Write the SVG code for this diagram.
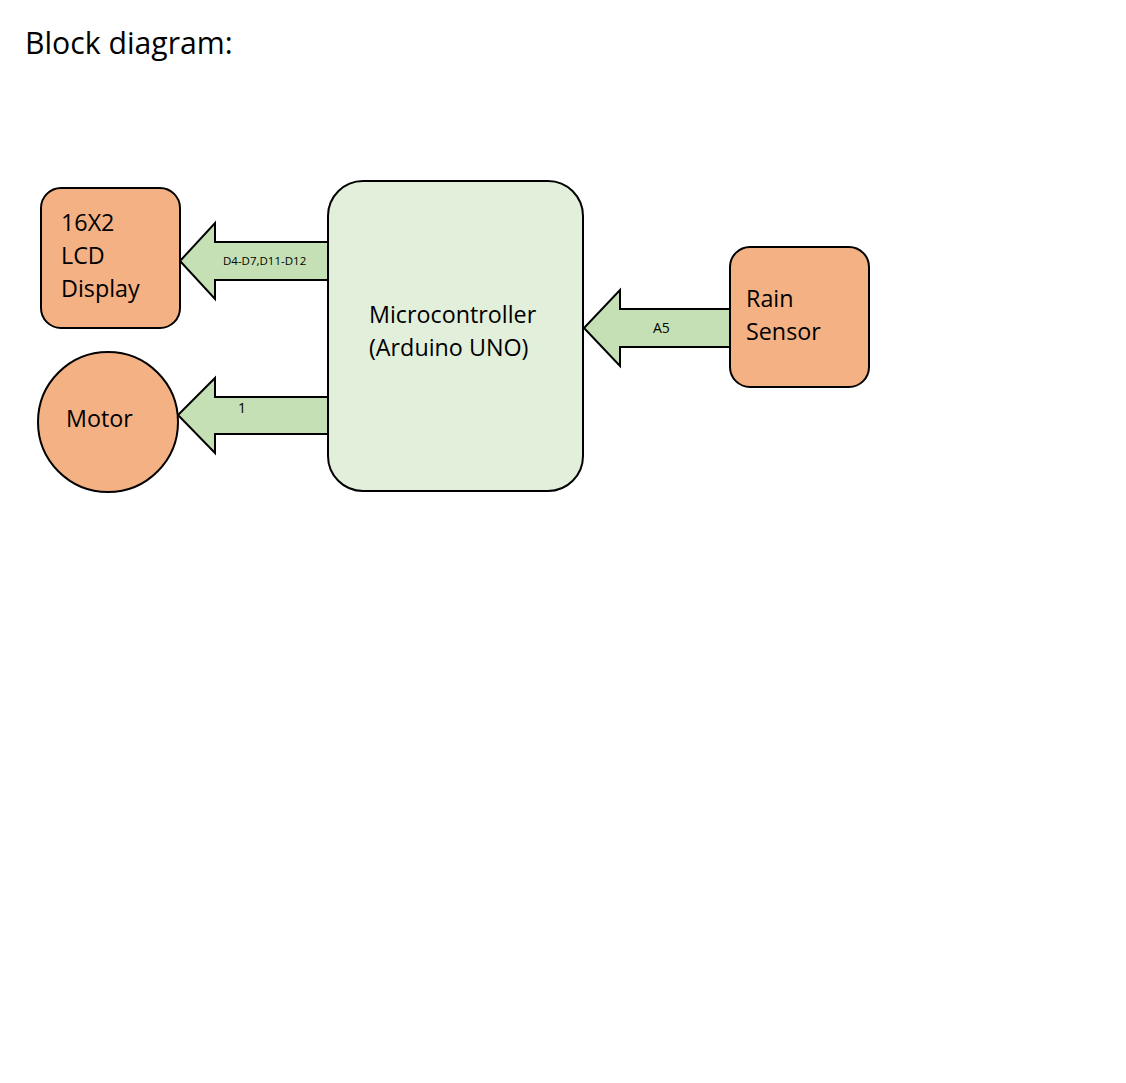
<svg xmlns="http://www.w3.org/2000/svg" width="1126" height="1083" viewBox="0 0 1126 1083">
<style>
text{font-family:"Open Sans","Liberation Sans",sans-serif;fill:#000}
.node{fill:#F4B183;stroke:#000;stroke-width:2}
.mcu{fill:#E2EFDA;stroke:#000;stroke-width:2}
.arrow{fill:#C5E0B4;stroke:#000;stroke-width:2;stroke-linejoin:miter}
.big{font-size:23.3px}
.lbl{font-size:14px}
</style>
<rect width="1126" height="1083" fill="#fff"/>
<text x="25" y="54" style="font-size:30.2px">Block diagram:</text>
<g id="connectors">
<path class="arrow" d="M328,242 L215,242 L215,223 L180,261 L215,299 L215,280 L328,280"/>
<text x="223" y="265" style="font-size:11.5px">D4-D7,D11-D12</text>
<path class="arrow" d="M328,397 L215,397 L215,378 L178,415 L215,453 L215,434 L328,434"/>
<text x="238" y="413" class="lbl">1</text>
<path class="arrow" d="M730,309 L620,309 L620,290 L584,328 L620,366 L620,347 L730,347"/>
<text x="653" y="333" class="lbl">A5</text>
</g>
<g id="lcd">
<rect class="node" x="41" y="188" width="139" height="140" rx="20"/>
<text x="61" y="231" class="big">16X2</text>
<text x="61" y="264" class="big">LCD</text>
<text x="61" y="297" class="big">Display</text>
</g>
<g id="motor">
<circle class="node" cx="108" cy="422" r="70"/>
<text x="66" y="427" class="big">Motor</text>
</g>
<g id="mcu">
<rect class="mcu" x="328" y="181" width="255" height="310" rx="35"/>
<text x="369" y="323" class="big">Microcontroller</text>
<text x="369" y="356" class="big">(Arduino UNO)</text>
</g>
<g id="rain">
<rect class="node" x="730" y="247" width="139" height="140" rx="20"/>
<text x="746" y="307" class="big">Rain</text>
<text x="746" y="340" class="big">Sensor</text>
</g>
</svg>
